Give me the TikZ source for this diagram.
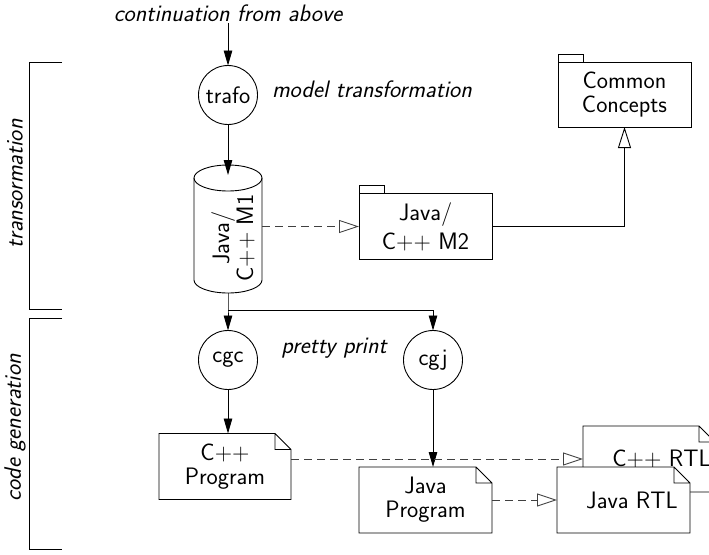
\documentclass[tikz,border=0pt]{standalone}
\usetikzlibrary{arrows.meta}
\makeatletter
% document sheet with a folded upper right corner
\def\docfold{16pt}
\pgfdeclareshape{docpage}{%
  \inheritsavedanchors[from=rectangle]%
  \inheritanchorborder[from=rectangle]%
  \inheritanchor[from=rectangle]{center}%
  \inheritanchor[from=rectangle]{north}%
  \inheritanchor[from=rectangle]{south}%
  \inheritanchor[from=rectangle]{east}%
  \inheritanchor[from=rectangle]{west}%
  \inheritanchor[from=rectangle]{north east}%
  \inheritanchor[from=rectangle]{north west}%
  \inheritanchor[from=rectangle]{south east}%
  \inheritanchor[from=rectangle]{south west}%
  \inheritanchor[from=rectangle]{base}%
  \inheritanchor[from=rectangle]{mid}%
  \backgroundpath{%
    \southwest \edef\dpxa{\the\pgf@x}\edef\dpya{\the\pgf@y}%
    \northeast \edef\dpxb{\the\pgf@x}\edef\dpyb{\the\pgf@y}%
    \pgfpathmoveto{\pgfpoint{\dpxa}{\dpya}}%
    \pgfpathlineto{\pgfpoint{\dpxa}{\dpyb}}%
    \pgfpathlineto{\pgfpoint{\dpxb-\docfold}{\dpyb}}%
    \pgfpathlineto{\pgfpoint{\dpxb}{\dpyb-\docfold}}%
    \pgfpathlineto{\pgfpoint{\dpxb}{\dpya}}%
    \pgfpathclose
    \pgfpathmoveto{\pgfpoint{\dpxb-\docfold}{\dpyb}}%
    \pgfpathlineto{\pgfpoint{\dpxb-\docfold}{\dpyb-\docfold}}%
    \pgfpathlineto{\pgfpoint{\dpxb}{\dpyb-\docfold}}%
  }%
}
% UML package: body with a small tab on top
\def\pkgtabw{25pt}
\def\pkgtabh{8pt}
\pgfdeclareshape{umlpackage}{%
  \inheritsavedanchors[from=rectangle]%
  \inheritanchorborder[from=rectangle]%
  \inheritanchor[from=rectangle]{center}%
  \inheritanchor[from=rectangle]{north}%
  \inheritanchor[from=rectangle]{south}%
  \inheritanchor[from=rectangle]{east}%
  \inheritanchor[from=rectangle]{west}%
  \inheritanchor[from=rectangle]{north east}%
  \inheritanchor[from=rectangle]{north west}%
  \inheritanchor[from=rectangle]{south east}%
  \inheritanchor[from=rectangle]{south west}%
  \inheritanchor[from=rectangle]{base}%
  \inheritanchor[from=rectangle]{mid}%
  \backgroundpath{%
    \southwest \edef\pkxa{\the\pgf@x}\edef\pkya{\the\pgf@y}%
    \northeast \edef\pkxb{\the\pgf@x}\edef\pkyb{\the\pgf@y}%
    \pgfpathrectanglecorners{\pgfpoint{\pkxa}{\pkya}}{\pgfpoint{\pkxb}{\pkyb}}%
    \pgfpathrectanglecorners{\pgfpoint{\pkxa}{\pkyb}}{\pgfpoint{\pkxa+\pkgtabw}{\pkyb+\pkgtabh}}%
  }%
}
\makeatother
\begin{document}
\begin{tikzpicture}[x=1pt,y=-1pt,
  line width=0.9pt,
  txt/.style={font=\fontsize{23.8}{24}\selectfont\sffamily},
  note/.style={font=\fontsize{23.8}{24}\selectfont\sffamily\itshape, inner sep=2pt, outer sep=0pt},
  proc/.style={txt, circle, draw, inner sep=0pt, outer sep=0pt, minimum size=59pt},
  pkg/.style={txt, umlpackage, draw, fill=white, inner sep=2pt, outer sep=0pt,
    minimum width=133pt, minimum height=66pt, align=center},
  doc/.style={txt, docpage, draw, fill=white, inner sep=2pt, outer sep=0pt,
    minimum width=132pt, minimum height=66pt, align=center},
  flow/.style={-{Triangle[length=15pt,width=8.5pt]}},
  realize/.style={black!75, dash pattern=on 8pt off 5pt,
    -{Triangle[open,length=20pt,width=13pt]}},
  generalize/.style={-{Triangle[open,length=21pt,width=13pt]}},
]
\useasboundingbox (0,0) rectangle (709,554);
\clip (0,0) rectangle (709,554);

% phase brackets on the left
\draw (62,62) -| (29,309) -- (62,309);
\draw (62,318) -| (29,549) -- (62,549);
\node[note, rotate=90] (phase1) at (15,184) {transormation};
\node[note, rotate=90] (phase2) at (15,428) {code generation};

% transformation step
\node[note] (cont) at (228,13) {continuation from above};
\node[proc] (trafo) at (228,95) {trafo};
\node[note, anchor=west] (trafolbl) at (270,89) {model transformation};

% model M1 as a cylinder
\node[minimum width=68pt, minimum height=128pt, inner sep=0pt, outer sep=0pt] (m1) at (228,229) {};
\draw ([yshift=-13pt]m1.north west) -- ([yshift=13pt]m1.south west)
  arc[start angle=180, end angle=360, x radius=34pt, y radius=13pt]
  -- ([yshift=-13pt]m1.north east);
\draw ([yshift=-13pt]m1.north) ellipse [x radius=34pt, y radius=13pt];
\node[txt, rotate=90, align=center] (m1text) at (233,238) {Java/\\C++ M1};

% metamodel packages
\node[pkg] (m2) at (425.5,226.5) {Java/\\[5pt]C++ M2};
\node[pkg, minimum height=65pt] (common) at (624.5,94.5) {Common\\Concepts};

% code generators
\node[proc] (cgc) at (228,360) {cgc};
\node[proc] (cgj) at (433,360) {cgj};
\node[note] (pplbl) at (334,348) {pretty print};

% generated programs and runtime libraries
\node[doc] (cprog) at (225,466.5) {C++\\Program};
\node[doc, minimum width=133pt] (jprog) at (425.5,500) {Java\\Program};
\node[doc, execute at begin node={\hspace*{25pt}}] (crtl) at (649,459) {C++ RTL};
\node[doc, minimum width=133pt, execute at begin node={\hspace*{17pt}}] (jrtl) at (623.5,500) {Java RTL};

% control flow
\draw[flow] (cont.south) -- (trafo.north);
\draw[flow] (trafo.south) -- ([yshift=-10pt]m1.north);
\coordinate (split) at (228,310);
\draw[flow] (m1.south) -- (split) -- (cgc.north);
\draw[flow] (split) -| (cgj.north);
\draw[flow] (cgc.south) -- (cgc.south |- cprog.north);
\draw[flow] (cgj.south) -- (cgj.south |- jprog.north);

% dependencies
\draw[realize] (m1.east |- m2.west) -- (m2.west);
\draw[generalize] (m2.east) -| (common.south);
\draw[realize] (cprog.east |- crtl.west) -- (crtl.west);
\draw[realize] (jprog.east) -- (jrtl.west);
\end{tikzpicture}
\end{document}
